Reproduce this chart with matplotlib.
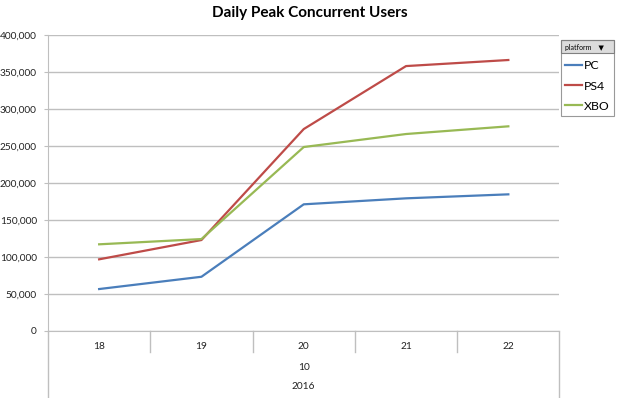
import matplotlib.pyplot as plt
from matplotlib.patches import Rectangle
from matplotlib.ticker import FuncFormatter

days = ["18", "19", "20", "21", "22"]
month = "10"
year = "2016"
pc = [56400, 73000, 171000, 179100, 184500]
ps4 = [96600, 122700, 272800, 358000, 366200]
xbo = [116900, 124000, 248500, 266100, 276500]

plt.rcParams['font.family'] = ['Lato', 'DejaVu Sans']

fig = plt.figure(figsize=(6.2, 3.98), dpi=100)
ax = fig.add_axes([0.0774, 0.169, 0.825, 0.743])

x = list(range(len(days)))
ax.plot(x, pc, color="#4a7ebb", lw=1.6, label="PC")
ax.plot(x, ps4, color="#be4b48", lw=1.6, label="PS4")
ax.plot(x, xbo, color="#98b954", lw=1.6, label="XBO")

ax.set_xlim(-0.5, len(days) - 0.5)
ax.set_ylim(0, 400000)
ax.set_yticks(range(0, 400001, 50000))
ax.yaxis.set_major_formatter(FuncFormatter(lambda v, p: f"{int(v):,}"))
ax.grid(axis="y", color="#bfbfbf", lw=1)
ax.set_axisbelow(True)
for s in ["top", "right"]:
    ax.spines[s].set_visible(False)
ax.spines["left"].set_color("#bfbfbf")
ax.spines["bottom"].set_color("#bfbfbf")
ax.tick_params(axis="y", length=3, color="#bfbfbf", labelsize=7.3, labelcolor="#222222", pad=5)

# category axis: days, month, year
ax.set_xticks(x)
ax.set_xticklabels(days, fontsize=7.3, color="#222222")
ax.tick_params(axis="x", length=0, pad=8)
trans = ax.get_xaxis_transform()
for k in range(len(days) + 1):
    b = k - 0.5
    low = -0.072 if 0 < k < len(days) else -0.23
    ax.plot([b, b], [0, low], transform=trans, color="#bfbfbf", lw=1, clip_on=False)
ax.text(2, -0.123, month, transform=trans, ha="center", va="center", fontsize=7.3, color="#222222")
ax.text(2, -0.19, year, transform=trans, ha="center", va="center", fontsize=7.3, color="#222222")

fig.suptitle("Daily Peak Concurrent Users", x=0.5, y=0.985, fontsize=11, fontweight="bold")

leg = fig.legend(loc="upper left", bbox_to_anchor=(0.905, 0.8995), title="platform    \u25bc",
                 fontsize=8.8, title_fontsize=5, frameon=True, fancybox=False,
                 handlelength=1.4, handletextpad=0.15, labelspacing=0.75, borderpad=0.35,
                 borderaxespad=0)
leg.get_frame().set_edgecolor("#808080")
leg.get_frame().set_linewidth(0.8)
leg._legend_box.align = "left"

# gray header bar across the legend box
fig.canvas.draw()
r = fig.canvas.get_renderer()
fb = leg.get_frame().get_window_extent(r)
tb = leg.get_title().get_window_extent(r)
hdr = Rectangle((fb.x0, tb.y0 - 2), fb.width, fb.y1 - tb.y0 + 2, transform=None,
                facecolor="#dcdcdc", edgecolor="#808080", lw=0.8, zorder=0)
leg.get_title().set_zorder(3)
fig.patches.append(hdr)
leg.set_zorder(2)
leg.get_frame().set_facecolor("none")
fig.patches.insert(0, Rectangle((fb.x0, fb.y0), fb.width, fb.height, transform=None,
                                facecolor="white", edgecolor="none", zorder=0))

fig.savefig("out.png", dpi=100)
